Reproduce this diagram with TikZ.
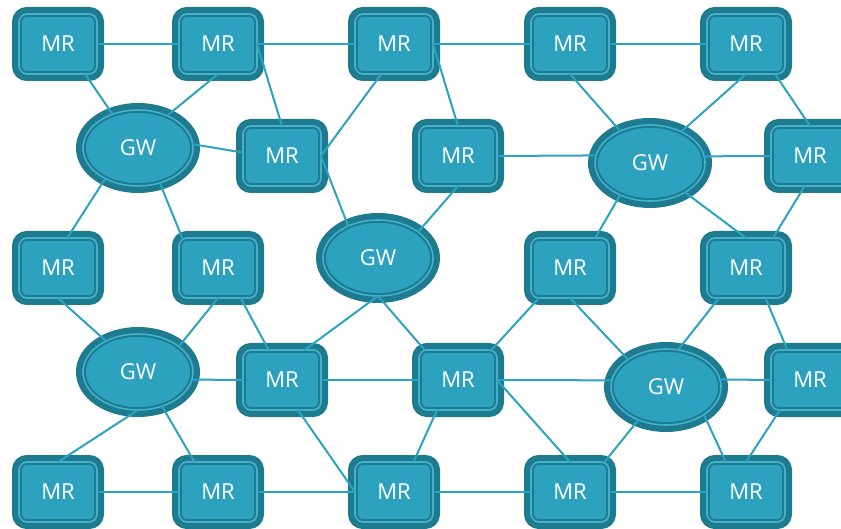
\documentclass[tikz,border=0pt]{standalone}
\usepackage{fontspec}
\setmainfont{Open Sans}
\usetikzlibrary{shapes.geometric}
\definecolor{dk}{HTML}{1E7A8F}
\definecolor{fl}{HTML}{2CA2BF}
\definecolor{rg}{HTML}{42B2CD}
\definecolor{ln}{HTML}{2BA3C1}
\tikzset{
 base/.style={inner sep=0pt, outer sep=0pt, text=white, font=\fontsize{22}{26}\selectfont,
   preaction={draw=dk, line width=14pt}, fill=fl, draw=dk, double=rg, line width=2pt, double distance=1.6pt},
 mr/.style={base, rectangle, rounded corners=8pt, minimum width=78pt, minimum height=60pt},
 gw/.style={base, ellipse, minimum width=110pt, minimum height=76pt},
 link/.style={draw=ln, line width=2pt}
}
\begin{document}
\begin{tikzpicture}[x=1pt,y=-1pt]
\clip (0,0) rectangle (841,529);
% MR nodes
\node[mr] (m1) at (58,44) {MR};
\node[mr] (m2) at (218,44) {MR};
\node[mr] (m3) at (394,44) {MR};
\node[mr] (m4) at (570,44) {MR};
\node[mr] (m5) at (746,44) {MR};
\node[mr] (m6) at (282,156) {MR};
\node[mr] (m7) at (458,156) {MR};
\node[mr] (m8) at (810,156) {MR};
\node[mr] (m9) at (58,268) {MR};
\node[mr] (m10) at (218,268) {MR};
\node[mr] (m11) at (570,268) {MR};
\node[mr] (m12) at (746,268) {MR};
\node[mr] (m13) at (282,380) {MR};
\node[mr] (m14) at (458,380) {MR};
\node[mr] (m15) at (810,380) {MR};
\node[mr] (m16) at (58,492) {MR};
\node[mr] (m17) at (218,492) {MR};
\node[mr] (m18) at (394,492) {MR};
\node[mr] (m19) at (570,492) {MR};
\node[mr] (m20) at (746,492) {MR};
% GW nodes
\node[gw] (g1) at (138,148) {GW};
\node[gw] (g2) at (378,258) {GW};
\node[gw] (g3) at (650,163) {GW};
\node[gw] (g4) at (138,372) {GW};
\node[gw] (g5) at (666,387) {GW};
% links
\draw[link] (m1.east) -- (m2.west);
\draw[link] (m2.east) -- (m3.west);
\draw[link] (m3.east) -- (m4.west);
\draw[link] (m4.east) -- (m5.west);
\draw[link] (m1.-48) -- (g1.127);
\draw[link] (m2.south) -- (g1.48);
\draw[link] (m2.east) -- (m6.north);
\draw[link] (g1.4) -- (m6.175);
\draw[link] (m3.-113) -- (m6.east);
\draw[link] (m3.east) -- (m7.north);
\draw[link] (m6.east) -- (g2.133);
\draw[link] (m7.south) -- (g2.33);
\draw[link] (m7.east) -- (g3.172);
\draw[link] (m4.south) -- (g3.133);
\draw[link] (m5.south) -- (g3.45);
\draw[link] (m5.-46) -- (m8.north);
\draw[link] (g3.7) -- (m8.west);
\draw[link] (g3.-133) -- (m11.50);
\draw[link] (g3.-40) -- (m12.north);
\draw[link] (m8.-100) -- (m12.48);
\draw[link] (g1.-137) -- (m9.73);
\draw[link] (g1.-58) -- (m10.140);
\draw[link] (m9.south) -- (g4.136);
\draw[link] (m10.south) -- (g4.32);
\draw[link] (m10.-53) -- (m13.114);
\draw[link] (g4.-8) -- (m13.west);
\draw[link] (g2.south) -- (m13.53);
\draw[link] (g2.south) -- (m14.138);
\draw[link] (m13.east) -- (m14.west);
\draw[link] (m11.-136) -- (m14.42);
\draw[link] (m11.south) -- (g5.144);
\draw[link] (m12.-132) -- (g5.72);
\draw[link] (m12.-57) -- (m15.127);
\draw[link] (m14.east) -- (g5.173);
\draw[link] (g5.8) -- (m15.west);
\draw[link] (m14.east) -- (m19.north);
\draw[link] (m14.-125) -- (m18.57);
\draw[link] (m13.-62) -- (m18.west);
\draw[link] (g4.south) -- (m16.north);
\draw[link] (g4.-55) -- (m17.128);
\draw[link] (m16.east) -- (m17.west);
\draw[link] (m17.east) -- (m18.west);
\draw[link] (m18.east) -- (m19.west);
\draw[link] (m19.east) -- (m20.west);
\draw[link] (g5.-130) -- (m19.41);
\draw[link] (g5.-36) -- (m20.124);
\draw[link] (m15.-135) -- (m20.north);
\end{tikzpicture}
\end{document}
